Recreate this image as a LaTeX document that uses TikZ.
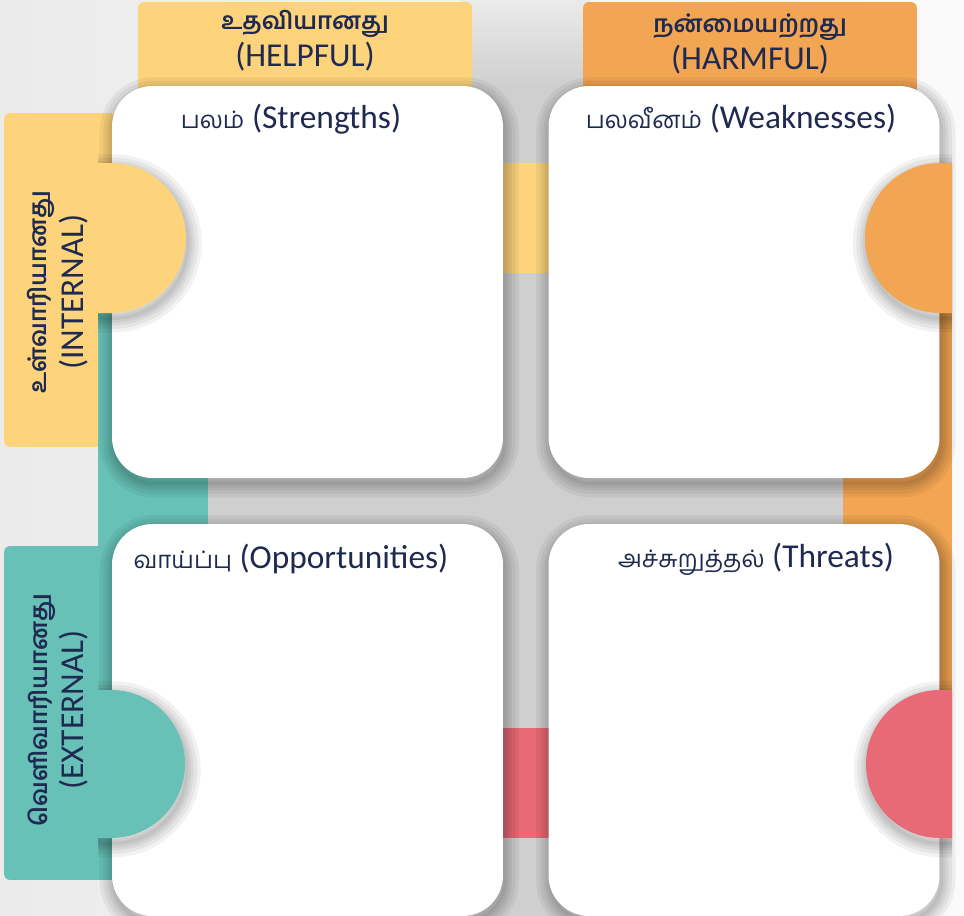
\documentclass[tikz,border=0pt]{standalone}
\usepackage{fontspec}
\setmainfont{Carlito}
\newfontfamily\tamil[Script=Tamil, Scale=0.72]{Hind Madurai}
\usetikzlibrary{positioning}
\definecolor{helpful}{HTML}{FDD47B}
\definecolor{harmful}{HTML}{F2A553}
\definecolor{external}{HTML}{67C1B7}
\definecolor{threat}{HTML}{E86A77}
\definecolor{ink}{HTML}{1F2A50}
\definecolor{band}{HTML}{CFCFCF}
\definecolor{bgl}{HTML}{EBEBEB}
\definecolor{bgr}{HTML}{FAFAFA}

\begin{document}
\begin{tikzpicture}[x=0.02cm, y=-0.02cm,
    haze/.style={draw=black, draw opacity=0.05, line width=#1,
                transform canvas={xshift=1pt, yshift=-3pt}},
    softshadow/.style={preaction={haze=16pt}, preaction={haze=12pt},
                preaction={haze=8pt}, preaction={haze=5pt}, preaction={haze=2pt}},
    quad/.style={fill=white, rounded corners=23pt, inner sep=0pt,
                minimum width=7.82cm, minimum height=7.84cm, softshadow},
    htab/.style={rounded corners=3.5pt, inner sep=0pt,
                minimum width=6.68cm, minimum height=1.96cm},
    vtab/.style={rounded corners=3.5pt, inner sep=0pt,
                minimum width=2.22cm, minimum height=6.68cm},
    head/.style={text=ink, align=center, font=\fontsize{19}{21}\selectfont},
    lbl/.style={text=ink, font=\fontsize{19}{22}\selectfont}]

    \useasboundingbox (0,0) rectangle (964,916);
    \shade[left color=bgl, right color=bgr] (0,0) rectangle (964,916);

    % grey cross between the quadrants
    \fill[band] (460,86) rectangle (590,916);
    \shade[top color=bgl, bottom color=band] (460,0) rectangle (590,86);
    \fill[band] (98,438) rectangle (952,565);

    % coloured pieces of the cross
    \fill[helpful] (460,163) rectangle (590,273);
    \fill[threat] (460,728) rectangle (590,838);
    \fill[external] (98,438) rectangle (208,565);
    \fill[harmful] (843,438) rectangle (952,565);

    % tabs
    \node[htab, fill=helpful] (helpfultab) at (305,51) {};
    \node[htab, fill=harmful] (harmfultab) at (750,51) {};
    \node[vtab, fill=helpful] (internaltab) at (59.5,280) {};
    \node[vtab, fill=external] (externaltab) at (59.5,713) {};

    \fill[external] (98,313) rectangle (130,880);
    \fill[harmful] (920,313) rectangle (952,690);

    \node[head] (helpfultxt) at (305,41) {{\tamil\bfseries உதவியானது}\\(HELPFUL)};
    \node[head] (harmfultxt) at (750,44) {{\tamil\bfseries நன்மையற்றது}\\(HARMFUL)};
    \node[head, rotate=90] (internaltxt) at (58,292) {{\tamil\bfseries உள்வாரியானது}\\(INTERNAL)};
    \node[head, rotate=90] (externaltxt) at (58,710) {{\tamil\bfseries வெளிவாரியானது}\\(EXTERNAL)};

    % the four quadrants
    \node[quad] (strengths) at (307.5,282) {};
    \node[quad] (weaknesses) at (744,282) {};
    \node[quad] (opportunities) at (307.5,720) {};
    \node[quad] (threats) at (744,720) {};

    % half discs on the quadrant edges
    \begin{scope}
        \clip (98,0) rectangle (964,916);
        \path[fill=helpful, softshadow] (98,163) -- (111,163)
            arc[start angle=-90, end angle=90, radius=75] -- (98,313) -- cycle;
        \path[fill=external, softshadow] (98,690) -- (111,690)
            arc[start angle=-90, end angle=90, radius=74] -- (98,838) -- cycle;
    \end{scope}
    \begin{scope}
        \clip (0,0) rectangle (952,916);
        \path[fill=harmful, softshadow] (952,163) -- (940,163)
            arc[start angle=-90, end angle=-270, radius=75] -- (952,313) -- cycle;
        \path[fill=threat, softshadow] (952,690) -- (940,690)
            arc[start angle=-90, end angle=-270, radius=74] -- (952,838) -- cycle;
    \end{scope}

    \node[lbl] (strlbl) at (291,119) {{\tamil பலம்} (Strengths)};
    \node[lbl] (weaklbl) at (741,119) {{\tamil பலவீனம்} (Weaknesses)};
    \node[lbl] (opplbl) at (291,559) {{\tamil வாய்ப்பு} (Opportunities)};
    \node[lbl] (thrlbl) at (756,559) {{\tamil அச்சுறுத்தல்} (Threats)};
\end{tikzpicture}
\end{document}
